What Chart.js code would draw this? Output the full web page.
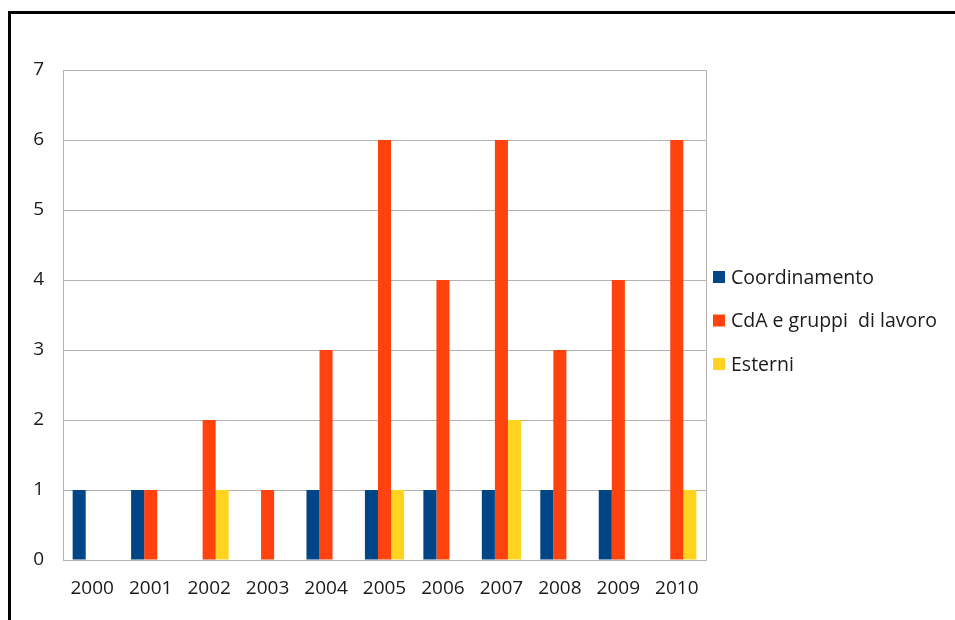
<!DOCTYPE html>
<html>
<head>
<meta charset="utf-8">
<script src="https://cdn.jsdelivr.net/npm/chart.js@4.4.1/dist/chart.umd.min.js"></script>
<style>
  html, body { margin: 0; padding: 0; background: #fff; overflow: hidden; }
  #wrap { position: absolute; left: 0; top: 0; width: 955px; height: 620px; overflow: hidden; }
  #frame { position: absolute; left: 8px; top: 11px; width: 1000px; height: 700px;
           border-left: 3px solid #000; border-top: 3px solid #000; box-sizing: border-box; }
  canvas { position: absolute; left: 0; top: 0; }
</style>
</head>
<body>
<div id="wrap">
  <div id="frame"></div>
  <canvas id="c" width="955" height="620"></canvas>
</div>
<script>
const years = ['2000','2001','2002','2003','2004','2005','2006','2007','2008','2009','2010'];
const seriesNames = ['Coordinamento', 'CdA e gruppi  di lavoro', 'Esterni'];
const coordinamento = [1, 1, 0, 0, 1, 1, 1, 1, 1, 1, 0];
const cdaGruppi     = [0, 1, 2, 1, 3, 6, 4, 6, 3, 4, 6];
const esterni       = [0, 0, 1, 0, 0, 1, 0, 2, 0, 0, 1];
const yTicks = [0, 1, 2, 3, 4, 5, 6, 7];

const colors = ['#004586', '#ff420e', '#ffd320'];
const FONT = '"Open Sans", Lato, sans-serif';

// Right edge of the plot area, drawn under the bars
const plotBorder = {
  id: 'plotBorder',
  beforeDatasetsDraw(chart) {
    const a = chart.chartArea, ctx = chart.ctx;
    ctx.save();
    ctx.strokeStyle = '#b3b3b3';
    ctx.lineWidth = 1;
    ctx.beginPath();
    ctx.moveTo(Math.round(a.right) + 0.5, a.top);
    ctx.lineTo(Math.round(a.right) + 0.5, a.bottom);
    ctx.stroke();
    ctx.restore();
  }
};

// Legend stacked at the right of the plot
const sideLegend = {
  id: 'sideLegend',
  afterDraw(chart) {
    const ctx = chart.ctx, a = chart.chartArea;
    const x0 = a.right + 7;
    const centers = [277, 320.5, 364];
    ctx.save();
    ctx.font = '19.5px ' + FONT;
    ctx.textBaseline = 'middle';
    chart.data.datasets.forEach((ds, i) => {
      const cy = centers[i];
      ctx.fillStyle = ds.backgroundColor;
      ctx.fillRect(x0, cy - 6, 12, 12);
      ctx.fillStyle = '#1a1a1a';
      ctx.fillText(ds.label, x0 + 18, cy + 1);
    });
    ctx.restore();
  }
};

new Chart(document.getElementById('c'), {
  type: 'bar',
  data: {
    labels: years,
    datasets: [
      { label: seriesNames[0], data: coordinamento, backgroundColor: colors[0] },
      { label: seriesNames[1], data: cdaGruppi, backgroundColor: colors[1] },
      { label: seriesNames[2], data: esterni, backgroundColor: colors[2] }
    ]
  },
  options: {
    responsive: false,
    animation: false,
    devicePixelRatio: 1,
    layout: { padding: { left: 0, top: 70, right: 249, bottom: 0 } },
    datasets: { bar: { barPercentage: 1, categoryPercentage: 0.67, borderWidth: 0 } },
    plugins: { legend: { display: false }, tooltip: { enabled: false } },
    scales: {
      x: {
        grid: { display: false, drawTicks: false },
        border: { display: true, color: '#b3b3b3', width: 1 },
        ticks: { color: '#1a1a1a', font: { family: FONT, size: 19 }, padding: 17, maxRotation: 0, autoSkip: false },
        afterFit(scale) { scale.height = 60; }
      },
      y: {
        min: 0, max: 7,
        afterBuildTicks(scale) { scale.ticks = yTicks.map(v => ({ value: v })); },
        grid: { color: '#b3b3b3', lineWidth: 1, drawTicks: false },
        border: { display: true, color: '#b3b3b3', width: 1 },
        ticks: { color: '#1a1a1a', font: { family: FONT, size: 19 }, padding: 19 },
        afterFit(scale) { scale.width = 63; }
      }
    }
  },
  plugins: [plotBorder, sideLegend]
});
</script>
</body>
</html>
